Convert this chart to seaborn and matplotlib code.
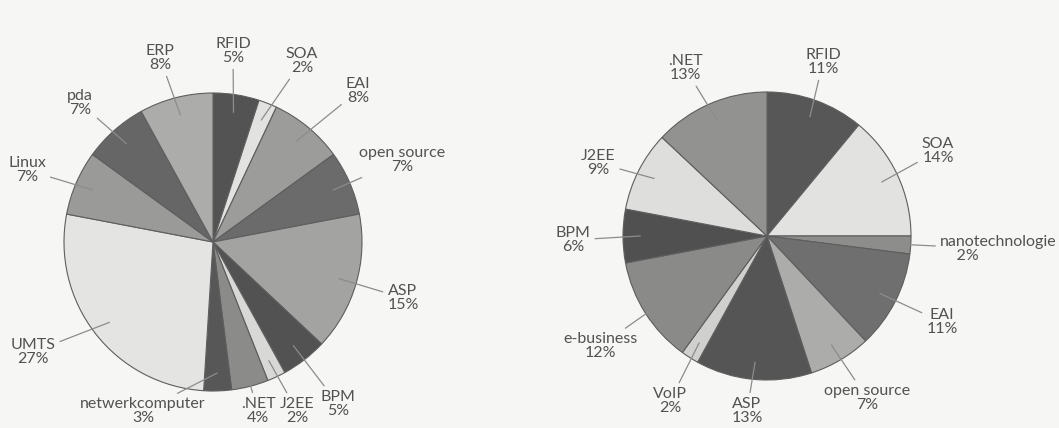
import numpy as np
import matplotlib.pyplot as plt
import seaborn as sns

# Left pie: clockwise from 12 o'clock
left_names = ['RFID', 'SOA', 'EAI', 'open source', 'ASP', 'BPM', 'J2EE', '.NET',
              'netwerkcomputer', 'UMTS', 'Linux', 'pda', 'ERP']
left_pct = [5, 2, 8, 7, 15, 5, 2, 4, 3, 27, 7, 7, 8]

# Right pie: clockwise from 12 o'clock
right_names = ['RFID', 'SOA', 'nanotechnologie', 'EAI', 'open source', 'ASP', 'VoIP',
               'e-business', 'BPM', 'J2EE', '.NET']
right_pct = [11, 14, 2, 11, 7, 13, 2, 12, 6, 9, 13]

# styling (grey shades as in the scan)
left_colors = ['#535353', '#e2e2e0', '#9c9c9a', '#6b6b6b', '#a3a3a1', '#525252', '#d8d8d6',
               '#8b8b8a', '#575757', '#e4e4e2', '#9a9a98', '#666666', '#acacaa']
right_colors = ['#575757', '#e2e2e0', '#8d8d8c', '#6f6f6f', '#acacaa', '#555555', '#d0d0ce',
                '#8a8a89', '#505050', '#dededc', '#929291']

W, H = 1059, 428

# label centres in pixel coords (x, y from top)
left_label_pos = [(233, 51), (302, 61), (358, 91), (402, 160), (403, 298), (338, 404),
                  (297, 411), (258, 411), (143, 411), (33, 352), (27, 170), (80, 103), (160, 58)]
right_label_pos = [(823, 62), (938, 151), (940, 249), (942, 322), (867, 398), (747, 411),
                   (670, 401), (600, 346), (573, 240), (598, 163), (685, 68)]

sns.set_theme(style="white")
plt.rcParams['font.family'] = ['Lato', 'DejaVu Sans']

fig = plt.figure(figsize=(W / 100, H / 100), dpi=100)
fig.patch.set_facecolor('#f6f6f4')
ax = fig.add_axes([0, 0, 1, 1])
ax.set_facecolor('#f6f6f4')


def draw_pie(values, names, colors, label_pos, center, radius):
    cx, cy = center[0], H - center[1]
    wedges, _ = ax.pie(values, colors=colors, startangle=90, counterclock=False,
                       center=(cx, cy), radius=radius,
                       wedgeprops=dict(edgecolor='#5e5e5e', linewidth=0.8))
    for w, name, val, (lx, ly) in zip(wedges, names, values, label_pos):
        mid = np.deg2rad((w.theta1 + w.theta2) / 2)
        xy = (cx + 0.88 * radius * np.cos(mid), cy + 0.88 * radius * np.sin(mid))
        if name.startswith('nano'):
            txt, ha = f'{name}\n    {val}%', 'left'
        else:
            txt, ha = f'{name}\n{val}%', 'center'
        ax.annotate(txt, xy=xy, xytext=(lx, H - ly), ha=ha, va='center',
                    multialignment=ha, fontsize=11.5, color='#525252', linespacing=0.95,
                    arrowprops=dict(arrowstyle='-', color='#8c8c8c', lw=0.9,
                                    shrinkA=1, shrinkB=0))


draw_pie(left_pct, left_names, left_colors, left_label_pos, (213, 242), 149)
draw_pie(right_pct, right_names, right_colors, right_label_pos, (767, 236), 144)

ax.set_xlim(0, W)
ax.set_ylim(0, H)
ax.set_aspect('equal')
ax.axis('off')

plt.savefig('out.png', dpi=100, facecolor=fig.get_facecolor())
plt.close()
